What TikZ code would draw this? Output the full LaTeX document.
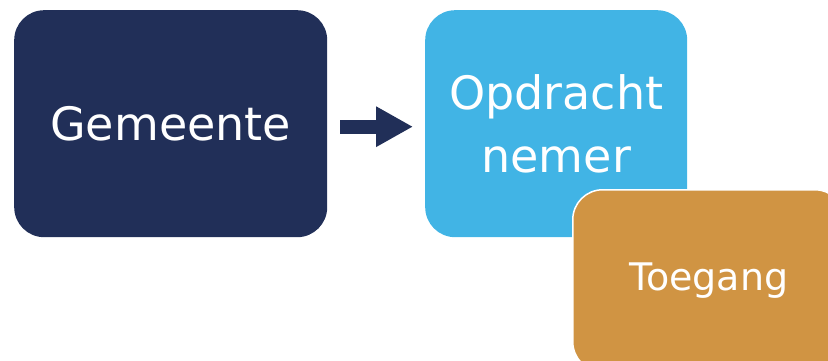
\documentclass[tikz,border=0pt]{standalone}
\usepackage{fontspec}
\setmainfont{DejaVu Sans}
\usetikzlibrary{arrows.meta}
\definecolor{navy}{HTML}{212F58}
\definecolor{sky}{HTML}{41B4E5}
\definecolor{ochre}{HTML}{D09443}
\begin{document}
\begin{tikzpicture}[x=1pt,y=-1pt,
  box/.style={rounded corners=30pt, inner sep=0pt, text=white, align=center, anchor=north west},
  conn/.style={navy, line width=14pt, -{Triangle[length=37pt,width=38pt]}, shorten <=13pt, shorten >=12pt}]
\useasboundingbox (0,0) rectangle (828,361);
\begin{scope}
\clip (0,0) rectangle (828,361);
\node[box, fill=navy, minimum width=313pt, minimum height=227pt,
  font=\fontsize{46}{63}\selectfont] (g) at (14,10) {Gemeente};
\node[box, fill=sky, minimum width=262pt, minimum height=227pt,
  font=\fontsize{46}{63}\selectfont] (o) at (425,10) {Opdracht\\nemer};
\node[box, fill=ochre, draw=white, line width=1.5pt, minimum width=272pt, minimum height=182pt,
  font=\fontsize{38}{44}\selectfont] (t) at (572,189) {Toegang};
\end{scope}
\draw[conn] ([yshift=-3pt]g.east) -- ([yshift=-3pt]o.west);
\end{tikzpicture}
\end{document}
